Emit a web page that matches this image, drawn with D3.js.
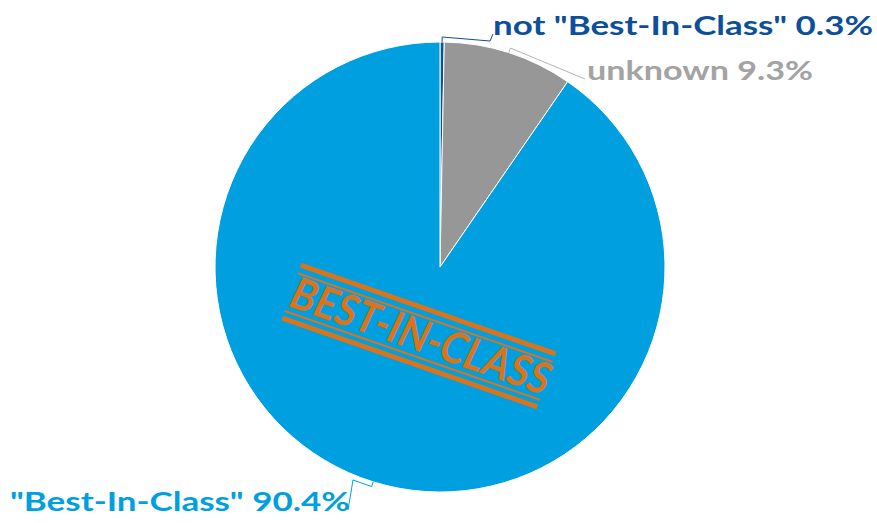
<!DOCTYPE html>
<html lang="en">
<head>
<meta charset="UTF-8">
<title>Best-In-Class share</title>
<script src="https://d3js.org/d3.v7.min.js"></script>
<style>
  body { margin: 0; background: #fff; }
  svg text { font-family: Lato, "Open Sans", "DejaVu Sans", sans-serif; font-weight: 700; }
</style>
</head>
<body>
<div id="chart"></div>
<script>
// data
const categories = ['not "Best-In-Class"', 'unknown', '"Best-In-Class"'];
const shares = [0.3, 9.3, 90.4];
const sliceColors = ["#0d4f9a", "#979797", "#009fe0"];
const labelColors = ["#0d4f9a", "#a3a3a3", "#009fe0"];

const width = 877, height = 523;
const cx = 440, cy = 267, r = 225;

const svg = d3.select("#chart").append("svg")
  .attr("width", width)
  .attr("height", height);

const pie = d3.pie().sort(null).value(d => d);
const arcs = pie(shares);
const arc = d3.arc().innerRadius(0).outerRadius(r);

const g = svg.append("g").attr("transform", `translate(${cx},${cy})`);

g.selectAll("path")
  .data(arcs)
  .join("path")
  .attr("d", arc)
  .attr("fill", (d, i) => sliceColors[i])
  .attr("stroke", "#fff")
  .attr("stroke-width", 1);

// point on the circle for a slice's mid angle
function edge(d, rr) {
  const a = (d.startAngle + d.endAngle) / 2;
  return [Math.sin(a) * rr, -Math.cos(a) * rr];
}

// label placement (elbow + text anchor), relative to pie centre
const labelLayout = [
  { elbow: [50, -226], end: [53, -233], tx: 53, ty: -232, w: 380 },
  { elbow: [145, -188], end: [145, -188], tx: 147, ty: -187, w: 226 },
  { elbow: [-87, 213], end: [-92, 243], tx: -430, ty: 244, w: 340 }
];

const line = d3.line();
arcs.forEach((d, i) => {
  const L = labelLayout[i];
  const p0 = edge(d, r);
  const p1 = edge(d, r + 5);
  g.append("path")
    .attr("d", line([p0, p1, L.elbow, L.end]))
    .attr("fill", "none")
    .attr("stroke", i === 1 ? "#b5b5b5" : sliceColors[i])
    .attr("stroke-width", 1);
  g.append("text")
    .attr("x", L.tx)
    .attr("y", L.ty)
    .attr("fill", labelColors[i])
    .attr("font-size", 26)
    .attr("textLength", L.w)
    .attr("lengthAdjust", "spacingAndGlyphs")
    .text(`${categories[i]} ${d3.format(".1f")(shares[i])}%`);
});

// stamp
const stamp = svg.append("g")
  .attr("transform", "translate(419,336) rotate(19.2)");
const orange = "#d9731c";
[[-28, 5], [-19.5, 2], [20.5, 2], [28, 5]].forEach(([y, w]) => {
  stamp.append("line")
    .attr("x1", -135).attr("x2", 135)
    .attr("y1", y).attr("y2", y)
    .attr("stroke", orange)
    .attr("stroke-width", w);
});
stamp.append("text")
  .attr("transform", "skewX(-6)")
  .attr("x", -134)
  .attr("y", 15)
  .attr("fill", orange)
  .attr("font-size", 44)
  .attr("font-weight", 700)
  .attr("textLength", 272)
  .attr("lengthAdjust", "spacingAndGlyphs")
  .text("BEST-IN-CLASS");
</script>
</body>
</html>
